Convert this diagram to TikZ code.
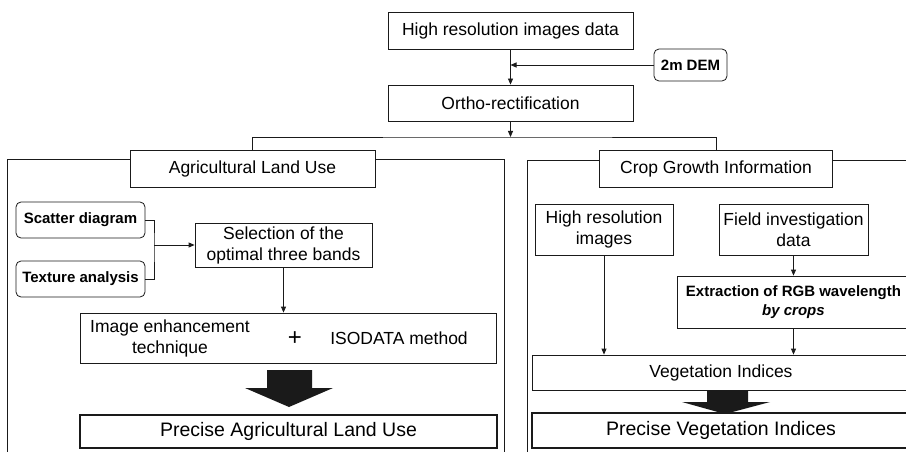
\documentclass[tikz,border=0pt]{standalone}
\usepackage{fontspec}
\setmainfont{Liberation Sans}
\usetikzlibrary{arrows.meta}
\definecolor{ink}{HTML}{1A1A1A}

\begin{document}
\begin{tikzpicture}[
    x=1pt, y=-1pt,
    box/.style={rectangle, draw=ink, fill=white, line width=0.8pt, inner sep=0pt,
                align=center, font=\fontsize{17.5}{21}\selectfont},
    rbox/.style={box, rounded corners=5pt, font=\fontsize{15}{18}\selectfont\bfseries},
    result/.style={box, line width=2pt, font=\fontsize{19.5}{23}\selectfont},
    plain/.style={inner sep=0pt, align=center, font=\fontsize{17.5}{21}\selectfont},
    link/.style={draw=ink, line width=0.8pt},
    >={Triangle[length=6pt,width=5pt]}
]
  \useasboundingbox (0,0) rectangle (906,452);

  % Frames of the two branches (drawn first, boxes sit on top)
  \draw[link] (7,159) rectangle (504,470);
  \draw[link] (527,160) rectangle (920,470);

  % Common trunk
  \node[box, minimum width=245pt, minimum height=37pt] (hri)   at (510.5,30.5) {High resolution images data};
  \node[box, minimum width=245pt, minimum height=36pt] (ortho) at (510.5,103)  {Ortho-rectification};
  \node[rbox, minimum width=73pt, minimum height=32pt] (dem)   at (690.5,65)   {2m DEM};
  \coordinate (demjoin) at (510.5,65);
  \coordinate (split)   at (510.5,137);

  \draw[link, ->] (hri) -- (ortho);
  \draw[link, ->] (dem) -- (demjoin);
  \draw[link, ->] (ortho) -- (split);

  % Branch headers
  \node[box, minimum width=245pt, minimum height=37pt] (alu) at (252.5,168.5) {Agricultural Land Use};
  \node[box, minimum width=233pt, minimum height=37pt] (cgi) at (716,168.5)   {Crop Growth Information};
  \draw[link] (alu.north) |- (split) -| (cgi.north);

  % Agricultural land use
  \node[rbox, minimum width=129pt, minimum height=36pt] (scatter) at (80.5,220) {Scatter diagram};
  \node[rbox, minimum width=129pt, minimum height=36pt] (texture) at (80.5,279) {Texture analysis};
  \node[box, minimum width=177pt, minimum height=44pt]  (sel)     at (283.5,245)
       {Selection of the\\optimal three bands};
  \coordinate (merge) at (154,245);
  \draw[link] (scatter.east) -| (merge) |- (texture.east);
  \draw[link, ->] (merge) -- (sel);

  \node[box, minimum width=416pt, minimum height=50pt] (enhbox) at (288,338) {};
  \node[plain] (enh)  at (170,338) {Image enhancement\\technique};
  \node[plain, font=\fontsize{24}{24}\selectfont] (plus) at (295,339) {+};
  \node[plain] (iso)  at (399,338) {ISODATA method};
  \draw[link, ->] (sel.south) -- (sel.south |- enhbox.north);

  \fill[ink] (267,370) -- (312,370) -- (312,388) -- (333,388) -- (289,407)
             -- (245,388) -- (267,388) -- cycle;
  \node[result, minimum width=417pt, minimum height=33pt] (pal) at (288.5,431.5)
       {Precise Agricultural Land Use};

  % Crop growth information
  \node[box, minimum width=138pt, minimum height=51pt] (hrimg) at (604,229.5)
       {High resolution\\images};
  \node[box, minimum width=149pt, minimum height=51pt] (field) at (793.5,229.5)
       {Field investigation\\data};
  \node[box, minimum width=233pt, minimum height=52pt,
        font=\fontsize{15}{19}\selectfont\bfseries] (extr) at (793.5,302)
       {Extraction of RGB wavelength\\\textit{by crops}};
  \node[box, minimum width=378pt, minimum height=35pt] (veg) at (721,372.5)
       {Vegetation Indices};

  \draw[link, ->] (field) -- (extr);
  \draw[link, ->] (hrimg.south) -- (hrimg.south |- veg.north);
  \draw[link, ->] (extr.south) -- (extr.south |- veg.north);

  \fill[ink] (707,391) -- (748,391) -- (748,402) -- (770,402) -- (725,414)
             -- (682,402) -- (707,402) -- cycle;
  \node[result, minimum width=378pt, minimum height=35pt] (pvi) at (721,430.5)
       {Precise Vegetation Indices};
\end{tikzpicture}
\end{document}
